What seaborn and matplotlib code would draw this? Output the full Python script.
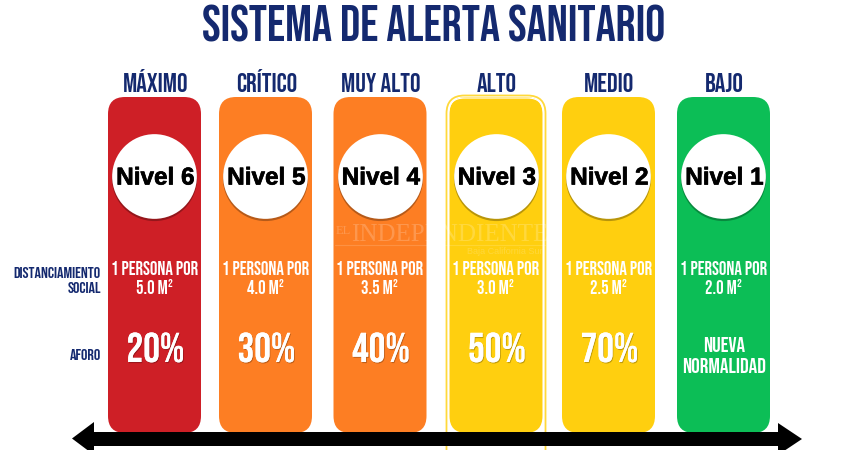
import matplotlib
matplotlib.use("Agg")
import matplotlib.pyplot as plt
import matplotlib.patheffects as pe
from matplotlib.patches import FancyBboxPatch, Polygon, Rectangle
from matplotlib import font_manager
import pandas as pd
import seaborn as sns

# Datos
riesgo = ["MÁXIMO", "CRÍTICO", "MUY ALTO", "ALTO", "MEDIO", "BAJO"]
nivel = ["Nivel 6", "Nivel 5", "Nivel 4", "Nivel 3", "Nivel 2", "Nivel 1"]
distancia = ["5.0 M²", "4.0 M²", "3.5 M²", "3.0 M²", "2.5 M²", "2.0 M²"]
aforo = ["20%", "30%", "40%", "50%", "70%", "NUEVA\nNORMALIDAD"]
altura = [336, 336, 336, 336, 336, 336]

# Layout en pixeles
centros = [154.5, 265.5, 380, 496, 608.5, 723.5]
colores = ["#CE1F26", "#FD7E23", "#FD7E23", "#FFCF0F", "#FFCF0F", "#0CBE56"]
AZUL = "#14296F"
TOPE = 97

sns.set_theme(style="white")
nombres = {f.name for f in font_manager.fontManager.ttflist}
ANGOSTA = "Bebas Neue" if "Bebas Neue" in nombres else "Liberation Sans"
plt.rcParams["font.family"] = [ANGOSTA, "DejaVu Sans"]

fig = plt.figure(figsize=(8.5, 4.5), dpi=100)
ax = fig.add_axes([0, 0, 1, 1])

df = pd.DataFrame({"centro": centros, "altura": altura, "riesgo": riesgo})
sns.barplot(data=df, x="centro", y="altura", hue="riesgo", palette=colores, native_scale=True,
            width=93 / 111, bottom=TOPE, legend=False, ax=ax, dodge=False, saturation=1)
ax.set_xlim(0, 850)
ax.set_ylim(450, 0)
ax.axis("off")

# Barras redondeadas a partir de las de seaborn
for b in list(ax.patches):
    x, y, w, h = b.get_x(), b.get_y(), b.get_width(), b.get_height()
    color = b.get_facecolor()
    b.set_visible(False)
    ax.add_patch(FancyBboxPatch((x + 17, y + 17), w - 34, h - 34, boxstyle="round,pad=17,rounding_size=17",
                                fc=color, ec="none", zorder=2))

# Marco de la columna ALTO
ax.add_patch(FancyBboxPatch((446.5 + 18, 95.5 + 18), 99 - 36, 380 - 36, boxstyle="round,pad=18,rounding_size=18",
                            fc="none", ec="#FFD93B", lw=1.3, zorder=3))
ax.add_patch(FancyBboxPatch((448.5 + 16, 98 + 16), 95 - 32, 380 - 32, boxstyle="round,pad=16,rounding_size=16",
                            fc="none", ec="white", lw=0.8, zorder=3))

# Marca de agua
ax.text(343, 234, "EL", family="Liberation Serif", fontsize=9, color="white", alpha=0.2,
        ha="center", va="baseline", zorder=3)
ax.text(450, 241, "INDEPENDIENTE", family="Liberation Serif", fontsize=18, color="white", alpha=0.2,
        ha="center", va="baseline", zorder=3)
ax.plot([335, 545], [245, 245], color="white", alpha=0.15, lw=0.8, zorder=3)
ax.text(505, 252, "Baja California Sur", family="Liberation Sans", fontsize=6.5, color="white", alpha=0.18,
        ha="center", va="center", zorder=3)

# Circulos
circ = pd.DataFrame({"x": centros, "y": [176] * 6})
sns.scatterplot(x=centros, y=[177.5] * 6, s=3760, color="black", alpha=0.28,
                linewidth=0, ax=ax, zorder=4, legend=False)
sns.scatterplot(data=circ, x="x", y="y", s=3720, color="white", linewidth=0, ax=ax, zorder=5, legend=False)

sombra = [pe.withSimplePatchShadow(offset=(0.6, -0.8), shadow_rgbFace="black", alpha=0.25)]

ax.text(434, 42, "SISTEMA DE ALERTA SANITARIO", color=AZUL, fontsize=36,
        ha="center", va="baseline", zorder=6)

for i, c in enumerate(centros):
    ax.text(c + 1, 92, riesgo[i], color=AZUL, fontsize=19, ha="center", va="baseline", zorder=6)
    ax.text(c + 1, 184.5, nivel[i], color="black", fontsize=17.5, fontweight="bold", family="Liberation Sans",
            ha="center", va="baseline", zorder=6,
            path_effects=[pe.withStroke(linewidth=0.5, foreground="black")])
    ax.text(c, 275, "1 PERSONA POR", color="white", fontsize=13.5, ha="center", va="baseline", zorder=6)
    ax.text(c, 294, distancia[i], color="white", fontsize=13.5, ha="center", va="baseline", zorder=6)
    if "\n" in aforo[i]:
        uno, dos = aforo[i].split("\n")
        ax.text(c + 1, 352, uno, color="white", fontsize=15.4, ha="center", va="baseline", zorder=6)
        ax.text(c + 1, 373, dos, color="white", fontsize=15.4, ha="center", va="baseline", zorder=6)
    else:
        ax.text(c + 1, 362, aforo[i], color="white", fontsize=30, ha="center", va="baseline",
                zorder=6, path_effects=sombra + [pe.Normal()])

# Etiquetas de fila
ax.text(101, 278, "DISTANCIAMIENTO", color=AZUL, fontsize=11.6, ha="right", va="baseline", zorder=6)
ax.text(101, 293, "SOCIAL", color=AZUL, fontsize=11.6, ha="right", va="baseline", zorder=6)
ax.text(101, 360, "AFORO", color=AZUL, fontsize=11.6, ha="right", va="baseline", zorder=6)

# Flecha
ax.add_patch(Rectangle((90, 432), 692, 14, fc="black", ec="none", zorder=7))
ax.add_patch(Polygon([(72, 438.5), (94, 422), (94, 455)], fc="black", ec="none", zorder=7))
ax.add_patch(Polygon([(802, 439), (778, 423), (778, 455)], fc="black", ec="none", zorder=7))

fig.savefig("out.png", dpi=100)
